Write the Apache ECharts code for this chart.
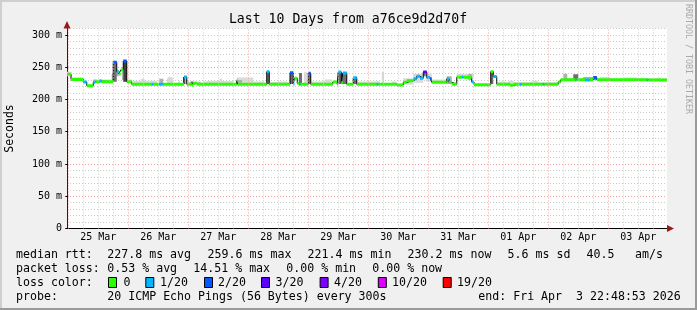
<!DOCTYPE html>
<html><head><meta charset="utf-8">
<script src="https://cdn.jsdelivr.net/npm/echarts@6/dist/echarts.min.js"></script>
<style>html,body{margin:0;padding:0;background:#f0f0f0}#c{width:697px;height:310px}</style>
</head><body><div id="c"></div>
<script>
// ---- data (time in hours relative to 25 Mar 00:00; values in ms) ----
const dayLabels = ['25 Mar','26 Mar','27 Mar','28 Mar','29 Mar','30 Mar','31 Mar','01 Apr','02 Apr','03 Apr'];
const dayLabelPos = [12,36,60,84,108,132,156,180,204,228];
const dayLines = [0,24,48,72,96,120,144,168,192,216];
const quarterLines = [6,12,18,30,36,42,54,60,66,78,84,90,102,108,114,126,132,138,150,156,162,174,180,186,198,204,210,222,228,234];
const yTickVals = [0,50,100,150,200,250,300];
const yTickLabels = ['0','50 m','100 m','150 m','200 m','250 m','300 m'];

// median rtt: change points (start hour), value, loss class
const medT = [-0.5, 1.1, 6.0, 7.4, 10.0, 10.8, 12.4, 13.4, 18.0, 19.4,
  20.2, 21.0, 22.0, 23.4, 25.4, 33.4, 34.0, 36.4, 38.0, 46.3,
  47.4, 49.4, 50.0, 51.4, 67.4, 67.8, 79.4, 80.4, 88.7, 90.0,
  90.5, 91.6, 92.3, 92.9, 96.0, 97.0, 105.8, 107.6, 108.0, 109.2,
  109.8, 111.4, 114.0, 115.4, 123.4, 124.0, 131.4, 134.0, 135.4, 138.0,
  139.4, 140.7, 142.0, 143.4, 144.7, 145.4, 151.4, 152.3, 153.4, 155.4,
  157.4, 158.0, 161.4, 162.3, 169.0, 170.0, 171.4, 176.7, 178.0, 180.7,
  181.3, 189.8, 190.4, 196.0, 197.0, 202.7, 203.3, 206.7, 208.7, 210.0,
  211.4, 231.4, 232.0, 239.5];
const medV = [239, 231, 227, 221.4, 226.6, 227.6, 228.5, 227.6, 257.6, 243,
  239.5, 245.7, 259.6, 227.6, 223.6, 223.6, 223.6, 223.6, 223.6, 235,
  223.6, 222, 225, 223.6, 229, 223.6, 243, 223.6, 241.5, 224,
  233, 225, 223.6, 223.6, 240.6, 223.6, 227, 223.6, 242.6, 226,
  241, 223.6, 233.8, 223.6, 223.6, 223.6, 222.5, 226.5, 229, 232,
  236, 233, 242.6, 234, 232, 226.5, 232, 226.5, 223.6, 234.4,
  235, 234.4, 227, 223, 243, 235.6, 223.6, 222, 223.6, 223.6,
  223.6, 223.6, 223.6, 227, 230.5, 230.2, 230.5, 230, 230.5, 234,
  230.5, 230.2, 230.2, 230.2];
const medLoss = [0, 0, 1, 0, 1, 0, 1, 0, 2, 1,
  0, 0, 2, 0, 0, 1, 0, 1, 0, 1,
  0, 0, 0, 0, 0, 0, 1, 0, 2, 1,
  0, 0, 1, 0, 2, 0, 0, 0, 1, 0,
  1, 0, 1, 0, 1, 0, 0, 0, 0, 1,
  1, 1, 3, 1, 2, 0, 1, 0, 0, 0,
  1, 0, 1, 0, 0, 1, 0, 0, 0, 1,
  0, 1, 0, 0, 0, 1, 0, 1, 0, 2,
  0, 1, 0, 0];

// smoke (ping spread) blocks: start hour, end hour, low, high, shade
const smT0 = [-0.5,1.4,10.0,11.4,17.4,18.0,19.4,21.5, 22.0,23.4,28.0,36.4,40.0,44.0,45.9,46.3,
  49.0,54.0,57.0,62.0,67.4,70.7,79.4,83.5, 88.7,92.3,94.3,96.0,102.0,108.0,109.2,114.0,
  118.5,122.7,125.4,129.4,134.0,138.0,142.0,143.0, 145.4,151.4,155.4,160.0,169.0,172.4,182.0,184.7,
  192.0,198.0,202.0,206.0,210.0,212.7,222.0,235.4,
  26.0,29.0,39.5,47.4,55.5,60.5,67.4,74.0, 97.0,102.5,115.4,171.4,176.0,186.0,197.0,80.4,153.4];
const smT1 = [1.4,6.0,11.4,17.4,18.0,19.4,20.2,22.0, 23.4,25.4,30.0,38.0,41.5,44.7,46.3,47.4,
  50.0,55.5,59.5,63.5,69.5,74.0,80.4,87.5, 90.0,93.5,95.5,97.0,104.7,109.2,111.4,115.4,
  120.0,124.7,126.3,131.4,138.0,142.0,143.0,145.4, 151.4,153.4,162.3,161.4,170.0,175.0,183.4,186.0,
  193.4,199.6,204.0,210.0,211.4,216.7,227.4,237.0,
  35.5,30.5,42.0,53.0,66.0,61.5,74.0,78.5, 105.0,105.5,124.7,196.0,178.0,188.0,239.5,88.7,155.4];
const smLo = [236,230,226.6,226,227,227.6,236,230, 227.6,225.5,224,224,224,224,224,224,
  223,224,224,224,224,224,224,224, 224,224,224,224,224,224,224,224,
  224,224,224,224,223,226,236,228, 226.5,224,234.4,230,224,223.6,223.6,223.6,
  223.6,230.5,230.5,230.5,230.5,230.5,230.5,230.5,
  224,224,224,224,224,224,224,224, 224,224,224,223.6,223.6,223.6,230.5,224,223.6];
const smHi = [243,234.5,231,231,240,256,246,250, 259,231,228,232,235,229,235,233,
  228,228,229,227,230,230,243,228, 241,241,242,240,228,242,241,234,
  227,228,243,228,233,240,244,240, 231,236,239.5,240,244,228,227,228,
  227,240,239,235,236,235,234,234,
  229,232,233,228,228.5,232,234,228, 228,231,228,226.5,229,229,233,227,227];
const smShade = [0,0,1,0,1,2,1,1, 3,0,0,1,0,0,2,1,
  2,0,0,0,1,0,2,0, 2,2,0,2,0,2,2,2,
  0,0,0,0,0,0,2,0, 0,1,0,1,2,0,0,0,
  0,1,2,1,2,0,0,0,
  0,0,0,0,0,0,0,0, 0,0,0,0,0,0,0,0,0];

const lossColors = ['#26ff00','#00b8ff','#0059ff','#5e00ff','#7e00ff','#dd00ff','#ff0000'];
const lossLabels = ['0','1/20','2/20','3/20','4/20','10/20','19/20'];
const smokeColors = ['#dadada','#b0b0b0','#6e6e6e','#404040'];

// ---- build ----
const FONT = '"DejaVu Sans Mono", monospace';
const segData = medT.slice(0, -1).map((t, i) => [t, medT[i + 1], medV[i], medLoss[i]]);
const stepData = medT.map((t, i) => [t, medV[i]]);
const smokeData = smT0.map((t, i) => [t, smT1[i], smLo[i], smHi[i], smShade[i]])
  .sort((a, b) => a[4] - b[4]);

const gridMarks = quarterLines.map(h => ({xAxis: h, lineStyle: {color: '#cacaca', type: [1, 2], width: 1}}))
  .concat(dayLines.map(h => ({xAxis: h, lineStyle: {color: '#f2a0a0', type: [1, 2], width: 1}})));

const legendRows = [
  {y: 254.5, items: [['median rtt:',16],['227.8 ms avg',107.3],['259.6 ms max',207.6],['221.4 ms min',307.6],['230.2 ms now',407.6],['5.6 ms sd',507.6],['40.5',586.6],['am/s',635]]},
  {y: 268.5, items: [['packet loss:',16],['0.53 % avg',107.3],['14.51 % max',193.3],['0.00 % min',286.3],['0.00 % now',372.3]]},
  {y: 282.5, items: [['loss color:',16]]},
  {y: 296.5, items: [['probe:',16],['20 ICMP Echo Pings (56 Bytes) every 300s',107.3],['end: Fri Apr  3 22:48:53 2026',478.3]]}
];
const boxX = [108,145.3,204,261,319.6,377.8,442.7];
const boxTextX = [123.6,160,218,275.6,334,392,457];

const graphics = [
  {type:'rect', shape:{x:0,y:0,width:697,height:2}, style:{fill:'#cfcfcf'}, z:100},
  {type:'rect', shape:{x:0,y:0,width:2,height:310}, style:{fill:'#cfcfcf'}, z:100},
  {type:'rect', shape:{x:0,y:308,width:697,height:2}, style:{fill:'#9a9a9a'}, z:100},
  {type:'rect', shape:{x:695,y:0,width:2,height:310}, style:{fill:'#9a9a9a'}, z:100},
  {type:'text', x:348, y:19.5, style:{text:'Last 10 Days from a76ce9d2d70f', font:'13.2px "DejaVu Sans Mono"', fill:'#000', align:'center', verticalAlign:'middle'}, z:100},
  {type:'text', x:10.5, y:128.5, rotation:Math.PI/2, style:{text:'Seconds', font:'11.5px "DejaVu Sans Mono"', fill:'#000', align:'center', verticalAlign:'middle'}, z:100},
  {type:'text', x:688, y:4, rotation:-Math.PI/2, style:{text:'RRDTOOL / TOBI OETIKER', font:'8.3px "DejaVu Sans Mono"', fill:'#aaaaaa', align:'left', verticalAlign:'middle'}, z:100},
  {type:'polygon', shape:{points:[[67,21],[63.5,28.5],[70.5,28.5]]}, style:{fill:'#9a1a1a'}, z:100},
  {type:'polygon', shape:{points:[[674,228.5],[667,225],[667,232]]}, style:{fill:'#9a1a1a'}, z:100}
];
legendRows.forEach(r => r.items.forEach(it => graphics.push({type:'text', x:it[1], y:r.y, style:{text:it[0], font:'11.6px "DejaVu Sans Mono"', fill:'#000', align:'left', verticalAlign:'middle'}, z:100})));
boxX.forEach((x, i) => {
  graphics.push({type:'rect', shape:{x:x+0.5, y:277.5, width:8, height:10}, style:{fill:lossColors[i], stroke:'#000', lineWidth:1}, z:100});
  graphics.push({type:'text', x:boxTextX[i], y:282.5, style:{text:lossLabels[i], font:'11.6px "DejaVu Sans Mono"', fill:'#000', align:'left', verticalAlign:'middle'}, z:100});
});

const chart = echarts.init(document.getElementById('c'), null, {renderer:'canvas'});
chart.setOption({
  animation: false,
  backgroundColor: '#f0f0f0',
  grid: {left:67, right:30, top:28.5, bottom:81.5, show:true, backgroundColor:'#ffffff', borderWidth:0},
  xAxis: [{
    type:'value', min:-0.5, max:239.5,
    axisLine:{show:true, lineStyle:{color:'#000', width:1}},
    axisTick:{show:false},
    splitLine:{show:false},
    axisLabel:{customValues: dayLabelPos, formatter: v => dayLabels[dayLabelPos.indexOf(v)] || '', color:'#000', fontFamily:FONT, fontSize:10, margin:4}
  }],
  yAxis: [{
    type:'value', min:0, max:310, interval:10,
    axisLine:{show:true, onZero:false, lineStyle:{color:'#222', width:1}},
    axisTick:{show:false}, axisLabel:{show:false},
    splitLine:{show:true, lineStyle:{color:'#cacaca', type:[1,2], width:1}}
  }, {
    type:'value', position:'left', offset:0, min:0, max:310, interval:50,
    axisLine:{show:false},
    axisTick:{show:true, customValues: yTickVals, length:3, lineStyle:{color:'#000'}},
    axisLabel:{customValues: yTickVals, formatter: v => yTickLabels[yTickVals.indexOf(v)] || '', color:'#000', fontFamily:FONT, fontSize:10, margin:5},
    splitLine:{show:true, showMaxLine:false, lineStyle:{color:'#f2a0a0', type:[1,2], width:1}}
  }],
  series: [
    {type:'line', data: stepData, symbol:'none', lineStyle:{opacity:0, width:0}, silent:true, z:1,
      markLine:{symbol:['none','none'], silent:true, animation:false, label:{show:false}, data: gridMarks}},
    {type:'custom', data: smokeData, encode:{x:[0,1], y:[2,3]}, clip:true, silent:true, z:2,
      renderItem: (params, api) => {
        const a = api.coord([api.value(0), api.value(3)]);
        const b = api.coord([api.value(1), api.value(2)]);
        return {type:'rect', shape:{x:a[0], y:a[1], width:Math.max(1, b[0]-a[0]), height:b[1]-a[1]}, style:{fill: smokeColors[api.value(4)]}};
      }},
    {type:'line', data: stepData, step:'end', symbol:'none', lineStyle:{color:'#000', width:1}, silent:true, z:3},
    {type:'custom', data: segData, encode:{x:[0,1], y:2}, clip:true, silent:true, z:4,
      renderItem: (params, api) => {
        const a = api.coord([api.value(0), api.value(2)]);
        const b = api.coord([api.value(1), api.value(2)]);
        return {type:'line', shape:{x1:a[0], y1:a[1], x2:b[0], y2:b[1]}, style:{stroke: lossColors[api.value(3)], lineWidth:3}};
      }}
  ],
  graphic: graphics
});
</script>
</body></html>
